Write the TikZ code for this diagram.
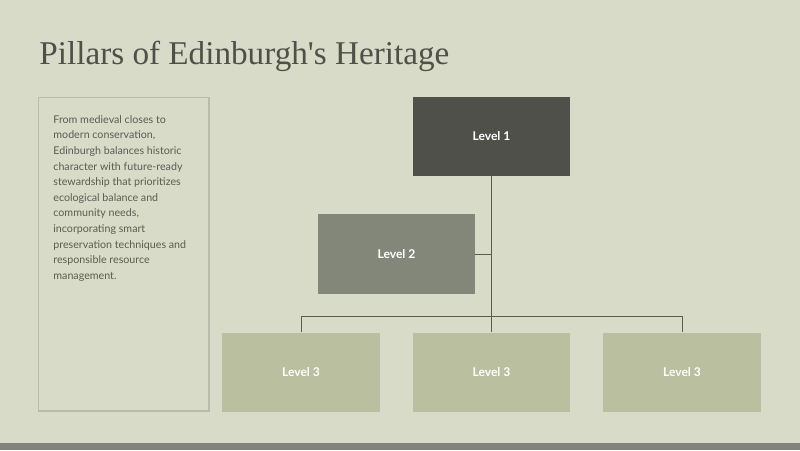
\documentclass[tikz,border=0pt]{standalone}
\usepackage{fontspec}
\setmainfont{Liberation Serif}[Ligatures=TeXOff]
\newfontfamily\bodyfont{Lato}
\definecolor{bgcol}{HTML}{D8DBC8}
\definecolor{inkcol}{HTML}{4F5048}
\definecolor{lineone}{HTML}{4F504A}
\definecolor{linetwo}{HTML}{828779}
\definecolor{linethree}{HTML}{B9BF9F}
\definecolor{framecol}{HTML}{B8BCAA}
\definecolor{barcol}{HTML}{7F857C}
\definecolor{wirecol}{HTML}{5A5C52}
\begin{document}
\begin{tikzpicture}[x=0.025cm,y=-0.025cm,line width=.2mm,
    levelbox/.style={minimum width=3.925cm,minimum height=1.975cm,inner sep=0pt,
      text=white,font=\bodyfont\fontsize{8.6}{10}\selectfont\bfseries}]
      \pgfmathsetmacro{\h}{118}
      \pgfmathsetmacro{\w}{190.5}

      \useasboundingbox (0,0) rectangle (800,450);
      \fill[bgcol] (0,0) rectangle (800,450);
      \fill[barcol] (0,443) rectangle (800,450);

      \node[anchor=base west,inner sep=0pt,text=inkcol,font=\fontsize{23.6}{26}\selectfont] (T) at (39,64) {Pillars of Edinburgh's Heritage};

      \draw[framecol,line width=.3mm] (38.5,97.5) rectangle (209,411);
      \node[anchor=north west,inner sep=0pt,align=left,text=wirecol,font=\bodyfont\fontsize{7.6}{11.1}\selectfont] (P) at (53,115)
        {From medieval closes to\\modern conservation,\\Edinburgh balances historic\\character with future-ready\\stewardship that prioritizes\\ecological balance and\\community needs,\\incorporating smart\\preservation techniques and\\responsible resource\\management.};

      \node[levelbox,fill=lineone] (A0) at (491.5,136.5) {Level 1};
      \node[levelbox,fill=linetwo] (B0) at (396.5,254) {Level 2};
      \node[levelbox,fill=linethree] (C0) at (491.5 - \w,372) {Level 3};
      \node[levelbox,fill=linethree] (C1) at (491.5,372) {Level 3};
      \node[levelbox,fill=linethree] (C2) at (491.5 + \w,372) {Level 3};

      \coordinate (J) at (491.5,316);

      \draw[wirecol,line width=.25mm] (A0.south) -- (C1.north);
      \draw[wirecol,line width=.25mm] (B0.east) -- (B0.east -| A0.south);
      \draw[wirecol,line width=.25mm] (C0.north) |- (J) -| (C2.north);
    \end{tikzpicture}
\end{document}
